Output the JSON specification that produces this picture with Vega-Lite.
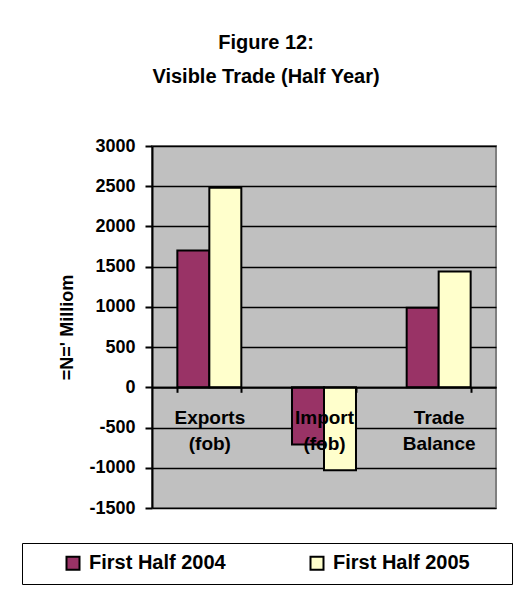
{
  "$schema": "https://vega.github.io/schema/vega-lite/v6.json",
  "width": 344,
  "height": 362,
  "autosize": {"type": "none"},
  "padding": {"left": 152, "top": 146, "right": 19, "bottom": 92},
  "background": "white",
  "title": {
    "text": ["Figure 12:", "Visible Trade (Half Year)"],
    "font": "Liberation Sans",
    "fontSize": 20,
    "fontWeight": "bold",
    "lineHeight": 34,
    "anchor": "middle",
    "dx": -58,
    "offset": 50,
    "color": "black"
  },
  "data": {
    "values": [
      {"category": "Exports (fob)", "period": "First Half 2004", "value": 1700},
      {"category": "Exports (fob)", "period": "First Half 2005", "value": 2480},
      {"category": "Import (fob)", "period": "First Half 2004", "value": -710},
      {"category": "Import (fob)", "period": "First Half 2005", "value": -1030},
      {"category": "Trade Balance", "period": "First Half 2004", "value": 990},
      {"category": "Trade Balance", "period": "First Half 2005", "value": 1440}
    ]
  },
  "mark": {"type": "bar", "stroke": "black", "strokeWidth": 2},
  "encoding": {
    "x": {
      "field": "category",
      "type": "nominal",
      "sort": null,
      "scale": {"paddingInner": 0.442, "paddingOuter": 0.221},
      "axis": {
        "title": null,
        "orient": "bottom",
        "offset": -120.7,
        "grid": false,
        "domainColor": "black",
        "domainWidth": 2,
        "tickColor": "black",
        "tickWidth": 2,
        "tickSize": 5,
        "tickBand": "extent",
        "labelAngle": 0,
        "labelFont": "Liberation Sans",
        "labelFontSize": 19,
        "labelFontWeight": "bold",
        "labelColor": "black",
        "labelPadding": 16,
        "labelLineHeight": 26,
        "labelExpr": "isString(datum.value) ? split(datum.value, ' ') : ''",
        "zindex": 1
      }
    },
    "xOffset": {
      "field": "period",
      "type": "nominal",
      "sort": null,
      "scale": {"paddingInner": 0, "paddingOuter": 0}
    },
    "y": {
      "field": "value",
      "type": "quantitative",
      "scale": {"domain": [-1500, 3000], "nice": false},
      "axis": {
        "title": "=N=' Milliom",
        "values": [-1500, -1000, -500, 0, 500, 1000, 1500, 2000, 2500, 3000],
        "labelExpr": "'' + datum.value",
        "domainColor": "black",
        "domainWidth": 2,
        "tickColor": "black",
        "tickWidth": 2,
        "tickSize": 7,
        "gridColor": "black",
        "gridWidth": 1.5,
        "gridOpacity": 1,
        "labelFont": "Liberation Sans",
        "labelFontSize": 18,
        "labelFontWeight": "bold",
        "labelColor": "black",
        "labelPadding": 10,
        "titleFont": "Liberation Sans",
        "titleFontSize": 18,
        "titleFontWeight": "bold",
        "titleColor": "black",
        "titlePadding": 12
      }
    },
    "color": {
      "field": "period",
      "type": "nominal",
      "scale": {"domain": ["First Half 2004", "First Half 2005"], "range": ["#993366", "#FFFFCC"]},
      "legend": {
        "title": ".",
        "titleOrient": "right",
        "titleColor": "white",
        "titleFont": "Liberation Sans",
        "titleFontSize": 20,
        "titlePadding": 26,
        "orient": "none",
        "legendX": -130,
        "legendY": 397,
        "direction": "horizontal",
        "strokeColor": "black",
        "padding": 10,
        "fillColor": "white",
        "symbolType": "square",
        "symbolSize": 169,
        "symbolStrokeColor": "black",
        "symbolStrokeWidth": 2,
        "symbolOffset": 31,
        "labelFont": "Liberation Sans",
        "labelFontSize": 20,
        "labelFontWeight": "bold",
        "labelColor": "black",
        "labelOffset": 6,
        "columnPadding": 50
      }
    }
  },
  "config": {
    "view": {"fill": "#C0C0C0", "stroke": "#808080", "strokeWidth": 2}
  }
}
